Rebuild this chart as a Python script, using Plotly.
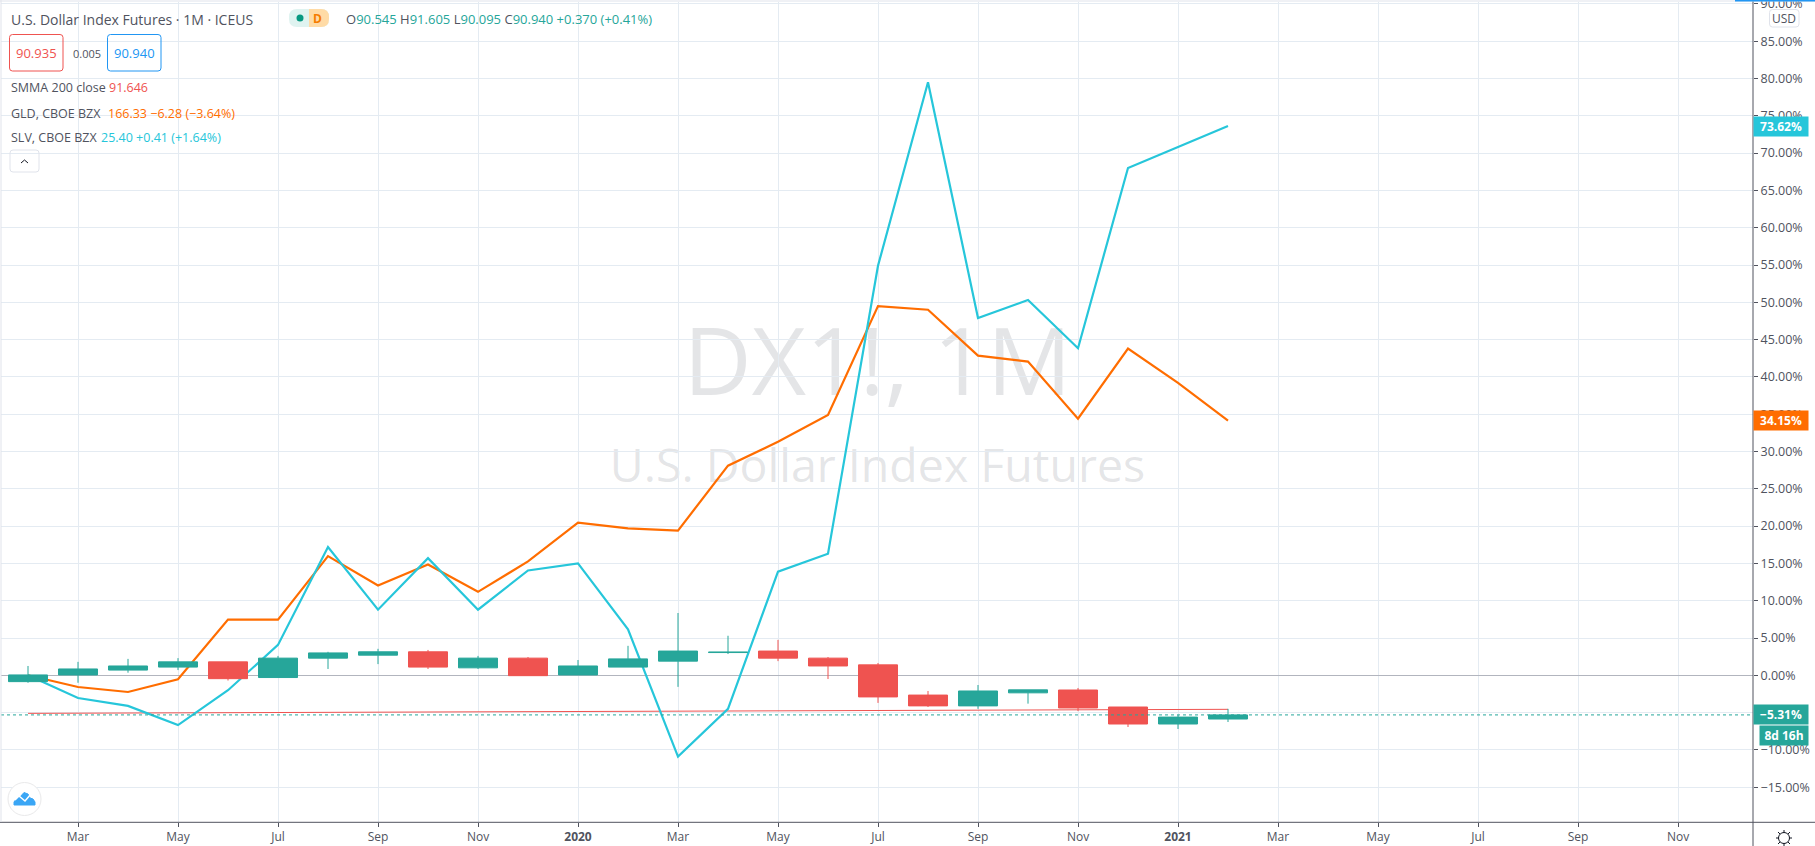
import plotly.graph_objects as go

months = ["2019-02","2019-03","2019-04","2019-05","2019-06","2019-07","2019-08","2019-09","2019-10","2019-11","2019-12",
          "2020-01","2020-02","2020-03","2020-04","2020-05","2020-06","2020-07","2020-08","2020-09","2020-10","2020-11","2020-12",
          "2021-01","2021-02","2021-03","2021-04","2021-05","2021-06","2021-07","2021-08","2021-09","2021-10","2021-11","2021-12"]
n_bars = 25
opens  = [-0.85,0.05,0.70,1.10,1.80,-0.30,2.30,2.70,3.15,1.00,2.30,0.05,1.10,1.90,3.05,3.25,2.30,1.40,-2.65,-4.10,-2.35,-1.97,-4.25,-6.53,-5.86]
highs  = [1.25,1.80,2.20,2.30,1.80,2.60,3.15,3.55,3.40,2.60,2.45,2.05,3.95,8.35,5.30,4.75,2.45,1.65,-2.10,-1.30,-1.95,-1.70,-4.25,-5.30,-4.50]
lows   = [-1.00,-1.00,0.35,0.70,-0.70,-0.30,0.85,1.50,0.85,0.85,-0.05,0.05,1.10,-1.55,2.85,1.90,-0.50,-3.70,-4.25,-4.50,-3.80,-4.80,-6.93,-7.20,-6.26]
closes = [0.05,0.85,1.25,1.80,-0.45,2.30,3.00,3.15,1.10,2.30,-0.05,1.25,2.20,3.25,3.10,2.30,1.25,-2.90,-4.10,-2.10,-1.95,-4.38,-6.53,-5.60,-5.31]
gld = [0.0,-1.57,-2.24,-0.54,7.47,7.47,15.97,12.04,14.85,11.19,15.26,20.45,19.70,19.40,28.10,31.30,34.90,49.50,49.00,42.85,42.05,34.40,43.80,39.20,34.15]
slv = [0.0,-3.04,-4.10,-6.67,-2.00,4.07,17.20,8.80,15.70,8.80,14.05,15.00,6.17,-10.90,-4.50,13.90,16.30,54.90,79.50,47.90,50.30,43.85,68.00,70.80,73.62]
smma = [-5.10,-5.08,-5.06,-5.04,-5.02,-5.00,-4.97,-4.95,-4.92,-4.90,-4.86,-4.82,-4.80,-4.78,-4.76,-4.74,-4.72,-4.70,-4.68,-4.66,-4.64,-4.62,-4.60,-4.58,-4.56]
last_price = closes[-1]
pct_ticks = list(range(-15, 95, 5))
time_tick_vals = months[1::2]
time_tick_text = ["Mar","May","Jul","Sep","Nov","<b>2020</b>","Mar","May","Jul","Sep","Nov","<b>2021</b>","Mar","May","Jul","Sep","Nov"]

TEAL="#26a69a"; RED="#ef5350"; ORANGE="#ff6d00"; CYAN="#26c6da"; GRID="#e4ebf2"; TXT="#50535e"; AXIS="#50535e"
FONT="Open Sans"
L,R,T,B=1,1753,2,822
W,H=1815,846
def px(x): return (x-L)/(R-L)
def py(y): return (B-y)/(B-T)
YR=[(675.3-B)/7.46,(675.3-T)/7.46]
XR=[(L-28)/50,(R-28)/50]

def fmt(v):
    return ("\u2212" if v<0 else "")+f"{abs(v):.2f}%"

fig=go.Figure()
fig.add_trace(go.Scatter(x=months[:n_bars],y=smma,mode="lines",line=dict(color=RED,width=1),hoverinfo="skip"))
fig.add_trace(go.Scatter(x=months[:n_bars],y=gld,mode="lines",line=dict(color=ORANGE,width=2.2),hoverinfo="skip"))
fig.add_trace(go.Scatter(x=months[:n_bars],y=slv,mode="lines",line=dict(color=CYAN,width=2.2),hoverinfo="skip"))
fig.add_trace(go.Candlestick(x=months[:n_bars],open=opens,high=highs,low=lows,close=closes,yaxis="y2",
    increasing=dict(line=dict(color=TEAL,width=1),fillcolor=TEAL),
    decreasing=dict(line=dict(color=RED,width=1),fillcolor=RED),whiskerwidth=0,hoverinfo="skip"))

shapes=[]
def line(x0,y0,x1,y1,c,w=1):
    shapes.append(dict(type="line",xref="paper",yref="paper",x0=px(x0),x1=px(x1),y0=py(y0),y1=py(y1),line=dict(color=c,width=w)))
def rrect(x0,y0,x1,y1,r,stroke,fill="rgba(0,0,0,0)",w=1):
    X0,X1=px(x0),px(x1);Y0,Y1=py(y0),py(y1);rx=r/(R-L);ry=r/(B-T)
    p=f"M{X0+rx},{Y0} L{X1-rx},{Y0} Q{X1},{Y0} {X1},{Y0-ry} L{X1},{Y1+ry} Q{X1},{Y1} {X1-rx},{Y1} L{X0+rx},{Y1} Q{X0},{Y1} {X0},{Y1+ry} L{X0},{Y0-ry} Q{X0},{Y0} {X0+rx},{Y0} Z"
    shapes.append(dict(type="path",xref="paper",yref="paper",path=p,line=dict(color=stroke,width=w),fillcolor=fill))
def poly(pts,fill,stroke=None,w=1,close=True):
    p="M"+" L".join(f"{px(a)},{py(b)}" for a,b in pts)+(" Z" if close else "")
    shapes.append(dict(type="path",xref="paper",yref="paper",path=p,fillcolor=fill if close else "rgba(0,0,0,0)",line=dict(color=stroke or fill,width=w)))
def circle(cx,cy,r,stroke,fill="rgba(0,0,0,0)",w=1):
    shapes.append(dict(type="circle",xref="paper",yref="paper",x0=px(cx-r),x1=px(cx+r),y0=py(cy-r),y1=py(cy+r),line=dict(color=stroke,width=w),fillcolor=fill))

# watermark under the series
def watermark(text,x0,y0,x1,y1,size):
    shapes.append(dict(type="rect",xref="paper",yref="paper",layer="below",x0=px(x0),x1=px(x1),y0=py(y0),y1=py(y1),
        line=dict(width=0),fillcolor="rgba(0,0,0,0)",
        label=dict(text=text,textposition="middle center",font=dict(family=FONT,size=size,color="rgba(120,123,134,0.2)"))))
watermark("DX1!, 1M",500,310,1255,420,94)
watermark("U.S. Dollar Index Futures",500,435,1255,500,46.5)

# last price
shapes.append(dict(type="line",xref="paper",yref="y",x0=0,x1=1,y0=last_price,y1=last_price,line=dict(color=TEAL,width=1,dash="dot")))
# frame
line(0,822.3,1815,822.3,AXIS)
line(1753,0,1753,846,AXIS)
line(1,0,1,822,"#e0e3eb")
line(0,1,1815,1,"#e0e3eb")
line(1735,0.5,1815,0.5,"#2196f3",2)
# legend boxes
rrect(9.5,34.5,63,71,3,RED)
rrect(107.5,34.5,161,71,3,"#2196f3")
rrect(10,150,39,172,3,"#e0e3eb")
poly([(21,163),(24.5,160),(28,163)],"#131722","#131722",1,False)
# badge
rrect(289,9,329,27,8,"#dff3f0","#dff3f0",0)
rrect(309,9,329,27,8,"#ffdba6","#ffdba6",0)
shapes.append(dict(type="rect",xref="paper",yref="paper",x0=px(309),x1=px(318),y0=py(9),y1=py(27),line=dict(width=0),fillcolor="#ffdba6"))
circle(300,18,3.5,"#089981","#089981",0)
# USD button
rrect(1769.5,9.5,1799,27,3,"#e0e3eb","#ffffff")
# logo
circle(24.5,799,16.5,"#e9e9ea","#ffffff")
poly([(14,802),(17,798),(20,797),(24,792.5),(28,794),(30,798),(33,799),(35,802),(35,805),(14,805)],"#3aa6f5")
poly([(15,800),(19,796),(25,801),(31,794)],"#fff","#ffffff",1.5,False)
# gear
circle(1784,838,5.5,"#131722")
for a,b,c,d in [(1784,830,1784,833),(1784,843,1784,846),(1776,838,1779,838),(1789,838,1792,838),(1778,832,1780,834),(1788,842,1790,844),(1778,844,1780,842),(1788,834,1790,832)]:
    line(a,b,c,d,"#131722")

ann=[]
def text(x,y,t,size=13,color=TXT,anchor="left"):
    ann.append(dict(xref="paper",yref="paper",x=px(x),y=py(y),text=t,showarrow=False,xanchor=anchor,yanchor="middle",
        align=anchor,font=dict(family=FONT,size=size,color=color),borderpad=0))
def c(s,col): return f'<span style="color:{col}">{s}</span>'
text(10,19,"U.S. Dollar Index Futures \u00b7 1M \u00b7 ICEUS",14)
text(317,18,"<b>D</b>",12,"#f57c00","center")
text(345,19,"O"+c("90.545",TEAL)+" H"+c("91.605",TEAL)+" L"+c("90.095",TEAL)+" C"+c("90.940",TEAL)+" "+c("+0.370 (+0.41%)",TEAL),13)
text(36,53,"90.935",13,RED,"center")
text(72,53,"0.005",11)
text(134,53,"90.940",13,"#2196f3","center")
text(10,88,"SMMA 200 close",12.5); text(108,88,"91.646",12.5,RED)
text(10,113,"GLD, CBOE BZX",12.5); text(107,113,"166.33 \u22126.28 (\u22123.64%)",12.5,ORANGE)
text(10,137,"SLV, CBOE BZX",12.5); text(100,137,"25.40 +0.41 (+1.64%)",12.5,CYAN)
text(1784,18,"USD",12,TXT,"center")
for v,col in [(slv[-1],CYAN),(gld[-1],ORANGE),(last_price,TEAL)]:
    ann.append(dict(xref="paper",yref="y",x=1,y=v,text=f"<b>{fmt(v)}</b>",showarrow=False,xanchor="left",yanchor="middle",
        width=54,height=19,bgcolor=col,borderpad=0,align="center",font=dict(family=FONT,size=12,color="#ffffff")))
ann.append(dict(xref="paper",yref="paper",x=px(1759),y=py(735.5),text="<b>8d 16h</b>",showarrow=False,xanchor="left",yanchor="middle",
    width=48,height=19,bgcolor=TEAL,borderpad=0,align="center",font=dict(family=FONT,size=12,color="#ffffff")))

fig.update_layout(
    width=W,height=H,autosize=False,margin=dict(l=L,r=W-R,t=T,b=H-B,pad=0),showlegend=False,
    paper_bgcolor="#ffffff",plot_bgcolor="#ffffff",boxgap=0.22,boxgroupgap=0,hovermode=False,
    font=dict(family=FONT,size=12,color=TXT),shapes=shapes,annotations=ann,
    xaxis=dict(type="category",categoryorder="array",categoryarray=months,range=XR,tickmode="array",tickvals=time_tick_vals,ticktext=time_tick_text,
        showgrid=True,gridcolor=GRID,gridwidth=1,ticks="outside",ticklen=4,tickcolor=AXIS,tickfont=dict(family=FONT,size=12,color=TXT),
        showline=False,zeroline=False,rangeslider=dict(visible=False),fixedrange=True),
    yaxis=dict(side="right",range=YR,tickmode="array",tickvals=pct_ticks,ticktext=[fmt(v) for v in pct_ticks],ticklabeloverflow="allow",
        showgrid=True,gridcolor=GRID,gridwidth=1,ticks="outside",ticklen=4,tickcolor=AXIS,tickfont=dict(family=FONT,size=12.5,color=TXT),
        zeroline=True,zerolinecolor="#b2b5be",zerolinewidth=1,showline=False,fixedrange=True,automargin=False),
    yaxis2=dict(overlaying="y",side="right",range=YR,showticklabels=False,showgrid=False,zeroline=False,ticks="",fixedrange=True),
)
fig.write_html("out.html",config=dict(displayModeBar=False),post_script="document.body.style.margin='0';document.documentElement.style.overflow='hidden';")
